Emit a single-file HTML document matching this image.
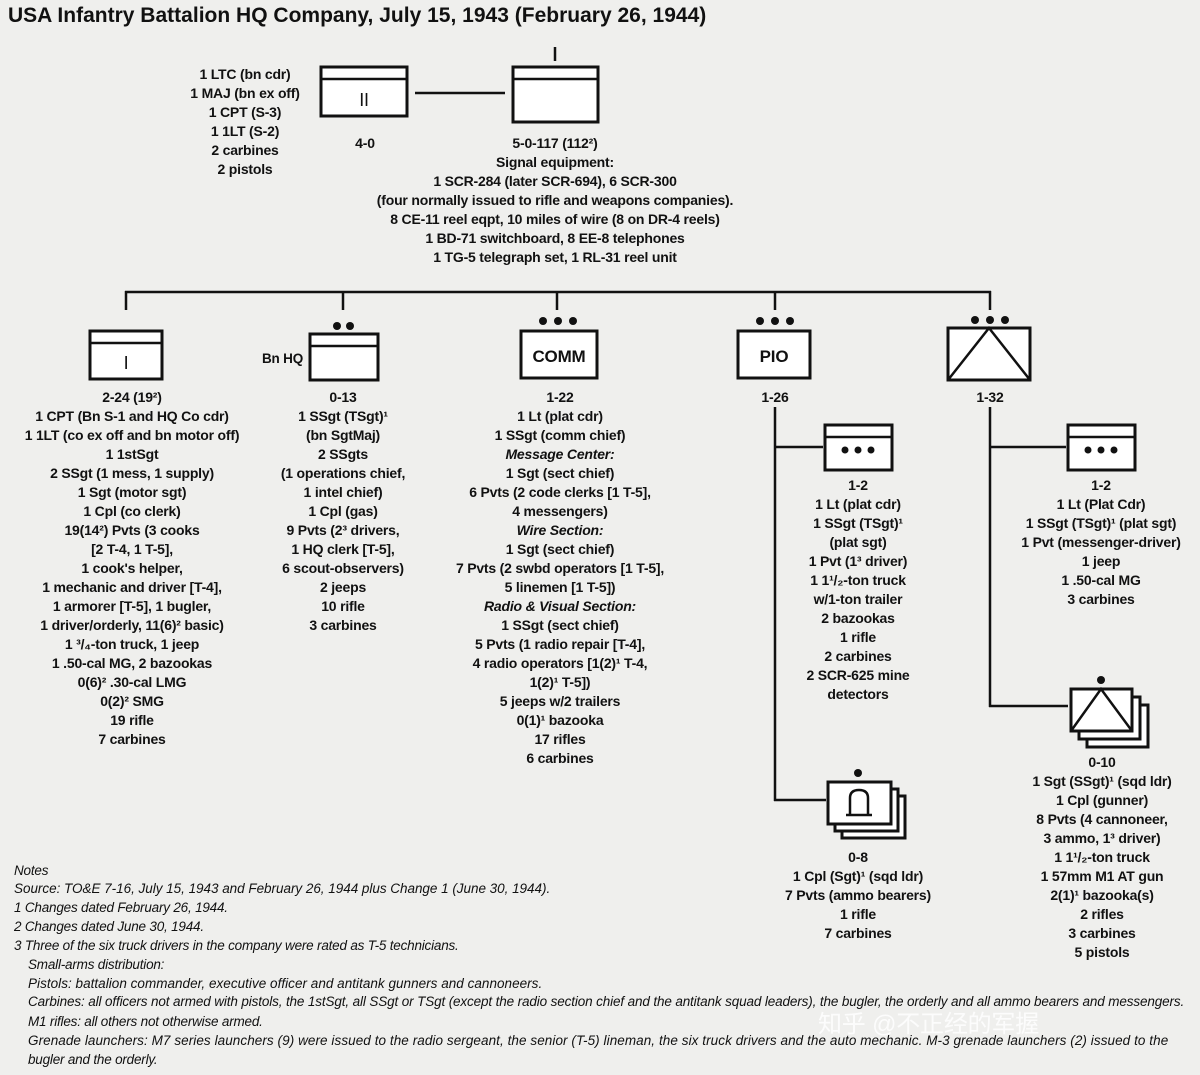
<!DOCTYPE html>
<html><head><meta charset="utf-8"><style>
html,body{margin:0;padding:0;background:#efefed;}
svg{display:block}
text{font-family:"Liberation Sans",sans-serif;font-weight:bold;font-size:14px;fill:#111;letter-spacing:-0.2px}
.c{text-anchor:middle}
.i{font-style:italic}
.n{font-weight:normal;font-style:italic;font-size:13.5px;letter-spacing:-0.2px}
.b{fill:#fff;stroke:#111;stroke-width:3}
.l{stroke:#111;stroke-width:2.5;fill:none}
</style></head><body>
<svg width="1200" height="1075" viewBox="0 0 1200 1075">
<text x="8" y="22" style="font-size:21px;letter-spacing:-0.3px" textLength="698">USA Infantry Battalion HQ Company, July 15, 1943 (February 26, 1944)</text>

<!-- top -->
<g class="c">
<text x="245" y="79">1 LTC (bn cdr)</text><text x="245" y="98">1 MAJ (bn ex off)</text><text x="245" y="117">1 CPT (S-3)</text><text x="245" y="136">1 1LT (S-2)</text><text x="245" y="155">2 carbines</text><text x="245" y="174">2 pistols</text>
</g>
<rect class="b" x="321" y="67" width="86" height="49"/><line class="l" x1="321" y1="79" x2="407" y2="79"/>
<text class="c" x="364" y="106" style="font-weight:normal;font-size:18px">II</text>
<text class="c" x="365" y="148">4-0</text>
<line class="l" x1="415" y1="93" x2="505" y2="93"/>
<line class="l" x1="555" y1="47" x2="555" y2="61"/>
<rect class="b" x="513" y="67" width="85" height="55"/><line class="l" x1="513" y1="79" x2="598" y2="79"/>
<g class="c">
<text x="555" y="148">5-0-117 (112²)</text>
<text x="555" y="167">Signal equipment:</text>
<text x="555" y="186">1 SCR-284 (later SCR-694), 6 SCR-300</text>
<text x="555" y="205">(four normally issued to  rifle and weapons companies).</text>
<text x="555" y="224">8 CE-11 reel eqpt, 10 miles of wire (8 on DR-4 reels)</text>
<text x="555" y="243">1 BD-71 switchboard, 8 EE-8 telephones</text>
<text x="555" y="262">1 TG-5 telegraph set, 1 RL-31 reel unit</text>
</g>

<!-- bus -->
<line class="l" x1="125" y1="292" x2="991" y2="292"/>
<line class="l" x1="126" y1="291" x2="126" y2="310"/>
<line class="l" x1="343" y1="291" x2="343" y2="310"/>
<line class="l" x1="557" y1="291" x2="557" y2="310"/>
<line class="l" x1="775" y1="291" x2="775" y2="310"/>
<line class="l" x1="990" y1="291" x2="990" y2="310"/>

<!-- col1 -->
<rect class="b" x="90" y="331" width="72" height="48"/><line class="l" x1="90" y1="343" x2="162" y2="343"/>
<text class="c" x="126" y="369" style="font-weight:normal;font-size:18px">I</text>
<g class="c">
<text x="132" y="402">2-24 (19²)</text>
<text x="132" y="421">1 CPT (Bn S-1 and HQ Co cdr)</text>
<text x="132" y="440">1 1LT (co ex off and bn motor off)</text>
<text x="132" y="459">1 1stSgt</text>
<text x="132" y="478">2 SSgt (1 mess, 1 supply)</text>
<text x="132" y="497">1 Sgt (motor sgt)</text>
<text x="132" y="516">1 Cpl (co clerk)</text>
<text x="132" y="535">19(14²) Pvts (3 cooks</text>
<text x="132" y="554">[2 T-4, 1 T-5],</text>
<text x="132" y="573">1 cook's helper,</text>
<text x="132" y="592">1 mechanic and driver [T-4],</text>
<text x="132" y="611">1 armorer [T-5], 1 bugler,</text>
<text x="132" y="630">1 driver/orderly, 11(6)² basic)</text>
<text x="132" y="649">1 ³/₄-ton truck, 1 jeep</text>
<text x="132" y="668">1 .50-cal MG, 2 bazookas</text>
<text x="132" y="687">0(6)² .30-cal LMG</text>
<text x="132" y="706">0(2)² SMG</text>
<text x="132" y="725">19 rifle</text>
<text x="132" y="744">7 carbines</text>
</g>

<!-- col2 -->
<circle cx="337" cy="326" r="4" fill="#111"/><circle cx="350" cy="326" r="4" fill="#111"/>
<rect class="b" x="310" y="334" width="68" height="46"/><line class="l" x1="310" y1="346" x2="378" y2="346"/>
<text x="262" y="363" style="font-size:13.5px">Bn HQ</text>
<g class="c">
<text x="343" y="402">0-13</text>
<text x="343" y="421">1 SSgt (TSgt)¹</text>
<text x="343" y="440">(bn SgtMaj)</text>
<text x="343" y="459">2 SSgts</text>
<text x="343" y="478">(1 operations chief,</text>
<text x="343" y="497">1 intel chief)</text>
<text x="343" y="516">1 Cpl (gas)</text>
<text x="343" y="535">9 Pvts (2³ drivers,</text>
<text x="343" y="554">1 HQ clerk [T-5],</text>
<text x="343" y="573">6 scout-observers)</text>
<text x="343" y="592">2 jeeps</text>
<text x="343" y="611">10 rifle</text>
<text x="343" y="630">3 carbines</text>
</g>

<!-- col3 -->
<circle cx="543" cy="321" r="4" fill="#111"/><circle cx="558" cy="321" r="4" fill="#111"/><circle cx="573" cy="321" r="4" fill="#111"/>
<rect class="b" x="521" y="331" width="76" height="47"/>
<text class="c" x="559" y="362" style="font-size:17px">COMM</text>
<g class="c">
<text x="560" y="402">1-22</text>
<text x="560" y="421">1 Lt (plat cdr)</text>
<text x="560" y="440">1 SSgt (comm chief)</text>
<text class="i" x="560" y="459">Message Center:</text>
<text x="560" y="478">1 Sgt (sect chief)</text>
<text x="560" y="497">6 Pvts (2 code clerks [1 T-5],</text>
<text x="560" y="516">4 messengers)</text>
<text class="i" x="560" y="535">Wire Section:</text>
<text x="560" y="554">1 Sgt (sect chief)</text>
<text x="560" y="573">7 Pvts (2 swbd operators [1 T-5],</text>
<text x="560" y="592">5 linemen [1 T-5])</text>
<text class="i" x="560" y="611">Radio &amp; Visual Section:</text>
<text x="560" y="630">1 SSgt (sect chief)</text>
<text x="560" y="649">5 Pvts (1 radio repair [T-4],</text>
<text x="560" y="668">4 radio operators [1(2)¹ T-4,</text>
<text x="560" y="687">1(2)¹ T-5])</text>
<text x="560" y="706">5 jeeps w/2 trailers</text>
<text x="560" y="725">0(1)¹ bazooka</text>
<text x="560" y="744">17 rifles</text>
<text x="560" y="763">6 carbines</text>
</g>

<!-- col4 -->
<circle cx="760" cy="321" r="4" fill="#111"/><circle cx="775" cy="321" r="4" fill="#111"/><circle cx="790" cy="321" r="4" fill="#111"/>
<rect class="b" x="738" y="331" width="72" height="47"/>
<text class="c" x="774" y="362" style="font-size:17px">PIO</text>
<text class="c" x="775" y="402">1-26</text>
<line class="l" x1="775" y1="407" x2="775" y2="801"/>
<line class="l" x1="774" y1="447" x2="823" y2="447"/>
<line class="l" x1="774" y1="800" x2="826" y2="800"/>
<rect class="b" x="825" y="425" width="67" height="45"/><line class="l" x1="825" y1="437" x2="892" y2="437"/>
<circle cx="845" cy="450" r="3.5" fill="#111"/><circle cx="858" cy="450" r="3.5" fill="#111"/><circle cx="871" cy="450" r="3.5" fill="#111"/>
<g class="c">
<text x="858" y="490">1-2</text>
<text x="858" y="509">1 Lt (plat cdr)</text>
<text x="858" y="528">1 SSgt (TSgt)¹</text>
<text x="858" y="547">(plat sgt)</text>
<text x="858" y="566">1 Pvt (1³ driver)</text>
<text x="858" y="585">1 1¹/₂-ton truck</text>
<text x="858" y="604">w/1-ton trailer</text>
<text x="858" y="623">2 bazookas</text>
<text x="858" y="642">1 rifle</text>
<text x="858" y="661">2 carbines</text>
<text x="858" y="680">2 SCR-625 mine</text>
<text x="858" y="699">detectors</text>
</g>
<rect class="b" x="842" y="796" width="63" height="42"/>
<rect class="b" x="835" y="789" width="63" height="42"/>
<rect class="b" x="828" y="782" width="63" height="42"/>
<circle cx="858" cy="773" r="4" fill="#111"/>
<path class="l" d="M850 815 V798 Q850 790 859 790 Q868 790 868 798 V815 M846 815 H872"/>
<g class="c">
<text x="858" y="862">0-8</text>
<text x="858" y="881">1 Cpl (Sgt)¹ (sqd ldr)</text>
<text x="858" y="900">7 Pvts (ammo bearers)</text>
<text x="858" y="919">1 rifle</text>
<text x="858" y="938">7 carbines</text>
</g>

<!-- col5 -->
<circle cx="975" cy="320" r="4" fill="#111"/><circle cx="990" cy="320" r="4" fill="#111"/><circle cx="1005" cy="320" r="4" fill="#111"/>
<rect class="b" x="948" y="328" width="82" height="52"/>
<path class="l" d="M948 380 L989 328 L1030 380"/>
<text class="c" x="990" y="402">1-32</text>
<line class="l" x1="990" y1="407" x2="990" y2="707"/>
<line class="l" x1="989" y1="447" x2="1066" y2="447"/>
<line class="l" x1="989" y1="706" x2="1068" y2="706"/>
<rect class="b" x="1068" y="425" width="67" height="45"/><line class="l" x1="1068" y1="437" x2="1135" y2="437"/>
<circle cx="1088" cy="450" r="3.5" fill="#111"/><circle cx="1101" cy="450" r="3.5" fill="#111"/><circle cx="1114" cy="450" r="3.5" fill="#111"/>
<g class="c">
<text x="1101" y="490">1-2</text>
<text x="1101" y="509">1 Lt (Plat Cdr)</text>
<text x="1101" y="528">1 SSgt (TSgt)¹ (plat sgt)</text>
<text x="1101" y="547">1 Pvt (messenger-driver)</text>
<text x="1101" y="566">1 jeep</text>
<text x="1101" y="585">1 .50-cal MG</text>
<text x="1101" y="604">3 carbines</text>
</g>
<rect class="b" x="1087" y="705" width="61" height="42"/>
<rect class="b" x="1079" y="697" width="61" height="42"/>
<rect class="b" x="1071" y="689" width="61" height="42"/>
<path class="l" d="M1071 731 L1101 689 L1132 731"/>
<circle cx="1101" cy="680" r="4" fill="#111"/>
<g class="c">
<text x="1102" y="767">0-10</text>
<text x="1102" y="786">1 Sgt (SSgt)¹ (sqd ldr)</text>
<text x="1102" y="805">1 Cpl (gunner)</text>
<text x="1102" y="824">8 Pvts (4 cannoneer,</text>
<text x="1102" y="843">3 ammo, 1³ driver)</text>
<text x="1102" y="862">1 1¹/₂-ton truck</text>
<text x="1102" y="881">1 57mm M1 AT gun</text>
<text x="1102" y="900">2(1)¹ bazooka(s)</text>
<text x="1102" y="919">2 rifles</text>
<text x="1102" y="938">3 carbines</text>
<text x="1102" y="957">5 pistols</text>
</g>

<!-- notes -->
<text class="n" x="14" y="875">Notes</text>
<text class="n" x="14" y="893" textLength="536">Source: TO&amp;E 7-16, July 15, 1943 and February 26, 1944 plus Change 1 (June 30, 1944).</text>
<text class="n" x="14" y="912">1  Changes dated February 26, 1944.</text>
<text class="n" x="14" y="931">2  Changes dated June 30, 1944.</text>
<text class="n" x="14" y="950">3  Three of the six truck drivers in the company were rated as T-5 technicians.</text>
<text class="n" x="28" y="969">Small-arms distribution:</text>
<text class="n" x="28" y="988" textLength="514">Pistols: battalion commander, executive officer and antitank gunners and cannoneers.</text>
<text class="n" x="28" y="1006" textLength="1156">Carbines: all officers not armed with pistols, the 1stSgt, all SSgt or TSgt (except the radio section chief and the antitank squad leaders), the bugler, the orderly and all ammo bearers and messengers.</text>
<text class="n" x="28" y="1026">M1 rifles: all others not otherwise armed.</text>
<text class="n" x="28" y="1045" textLength="1140">Grenade launchers: M7 series launchers (9) were issued to the radio sergeant, the senior (T-5) lineman, the six truck drivers and the auto mechanic. M-3 grenade launchers (2) issued to the</text>
<text class="n" x="28" y="1064">bugler and the orderly.</text>
<text x="818" y="1032" style="font-family:'Liberation Sans','Noto Sans CJK SC',sans-serif;font-weight:normal;font-size:24px;fill:#fff;opacity:0.85">知乎 @不正经的军握</text>
</svg>
</body></html>
